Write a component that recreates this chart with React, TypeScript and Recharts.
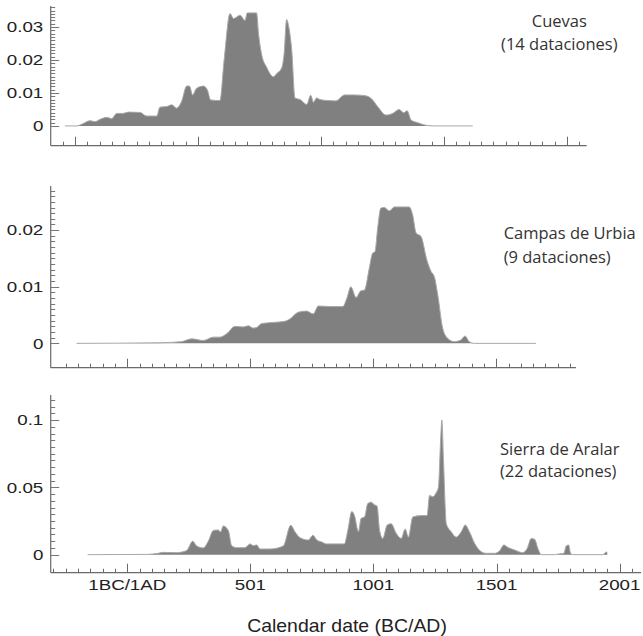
import React from 'react';
import { AreaChart, Area, XAxis, YAxis } from 'recharts';

// years: 1 = 1BC/1AD; probability density
const cuevasYears = [-40, 8, 28, 62, 82, 103, 130, 150, 170, 197, 218, 265, 292, 333, 346, 374, 394, 414, 434, 455, 466, 479, 495, 523, 539, 552, 590, 607, 631, 645, 672, 692, 701, 739, 747, 760, 780, 807, 821, 841, 851, 861, 870, 882, 895, 916, 943, 959, 970, 983, 997, 1028, 1062, 1096, 1137, 1177, 1204, 1231, 1265, 1292, 1319, 1337, 1351, 1367, 1394, 1428, 1462, 1618];
const cuevasProb = [0, 0, 0.0005, 0.0016, 0.0013, 0.002, 0.0026, 0.0022, 0.0038, 0.0038, 0.0042, 0.0041, 0.003, 0.003, 0.0057, 0.0059, 0.0064, 0.0054, 0.0074, 0.0121, 0.0121, 0.0094, 0.0114, 0.0121, 0.0109, 0.0079, 0.0077, 0.02, 0.0341, 0.0326, 0.0336, 0.032, 0.0343, 0.0343, 0.028, 0.0215, 0.0178, 0.0149, 0.0159, 0.0176, 0.022, 0.0323, 0.03, 0.0229, 0.0085, 0.008, 0.0065, 0.0093, 0.0072, 0.0085, 0.008, 0.0077, 0.0076, 0.0094, 0.0094, 0.0092, 0.0084, 0.0059, 0.0033, 0.0038, 0.005, 0.004, 0.0046, 0.0018, 0.001, 0.0002, 0, 0];

const urbiaYears = [-205, 134, 222, 263, 310, 351, 378, 405, 439, 473, 493, 513, 527, 547, 595, 642, 662, 696, 730, 757, 778, 829, 877, 894, 910, 931, 951, 965, 985, 998, 1008, 1019, 1032, 1046, 1066, 1087, 1147, 1161, 1175, 1195, 1219, 1236, 1249, 1263, 1283, 1303, 1330, 1357, 1374, 1391, 1412, 1662];
const urbiaProb = [0, 0.0001, 0.0003, 0.0008, 0.0005, 0.0011, 0.0011, 0.0017, 0.003, 0.0029, 0.0031, 0.0027, 0.0028, 0.0035, 0.0037, 0.0039, 0.0043, 0.0055, 0.0057, 0.0052, 0.0066, 0.0065, 0.0065, 0.008, 0.01, 0.0081, 0.0093, 0.0094, 0.0133, 0.0159, 0.0162, 0.0204, 0.0239, 0.024, 0.0234, 0.0241, 0.0241, 0.0227, 0.0195, 0.0189, 0.0147, 0.0127, 0.0118, 0.0086, 0.0027, 0.0009, 0.0003, 0.0006, 0.0013, 0.0003, 0, 0];

const aralarYears = [-160, 80, 127, 147, 202, 242, 267, 283, 310, 330, 351, 371, 380, 391, 412, 425, 446, 479, 500, 513, 527, 540, 581, 635, 665, 683, 703, 737, 755, 771, 791, 810, 883, 897, 913, 924, 940, 951, 965, 978, 992, 1005, 1016, 1026, 1039, 1057, 1073, 1093, 1114, 1130, 1143, 1161, 1195, 1219, 1229, 1242, 1256, 1265, 1274, 1279, 1286, 1297, 1317, 1337, 1358, 1374, 1391, 1412, 1439, 1459, 1493, 1513, 1531, 1547, 1574, 1608, 1626, 1642, 1656, 1669, 1683, 1737, 1753, 1775, 1784, 1794, 1802, 1811, 1933, 1947, 1951];
const aralarProb = [0, 0.0002, 0.001, 0.0017, 0.0015, 0.003, 0.01, 0.0064, 0.005, 0.0099, 0.018, 0.0183, 0.0168, 0.0213, 0.0178, 0.0067, 0.0052, 0.0052, 0.008, 0.0067, 0.0072, 0.0042, 0.0042, 0.0064, 0.0218, 0.0168, 0.0126, 0.0109, 0.0144, 0.0109, 0.0094, 0.008, 0.008, 0.018, 0.032, 0.029, 0.017, 0.027, 0.028, 0.038, 0.039, 0.037, 0.036, 0.018, 0.012, 0.022, 0.023, 0.016, 0.012, 0.019, 0.013, 0.028, 0.029, 0.029, 0.044, 0.043, 0.046, 0.05, 0.085, 0.1, 0.068, 0.023, 0.017, 0.013, 0.017, 0.022, 0.017, 0.0084, 0.0022, 0.001, 0.001, 0.0027, 0.0072, 0.0054, 0.0035, 0.0015, 0.0047, 0.012, 0.0114, 0.0047, 0, 0, 0.0005, 0.001, 0.0064, 0.0072, 0.001, 0, 0, 0.002, 0.0015];

const xMajorTicks = [1, 501, 1001, 1501, 2001];
const xMajorLabels = ['1BC/1AD', '501', '1001', '1501', '2001'];
const cuevasYTicks = [0, 0.01, 0.02, 0.03];
const urbiaYTicks = [0, 0.01, 0.02];
const aralarYTicks = [0, 0.05, 0.1];

const AXIS = '#6a6a6a';
const FILL = '#808080';

const range = (from: number, to: number, step: number) => {
  const out: number[] = [];
  for (let v = from; v <= to + step / 1000; v += step) out.push(Math.round(v * 1e6) / 1e6);
  return out;
};

const toRows = (years: number[], prob: number[]) => years.map((year, i) => ({ year, p: prob[i] }));

function renderXTick(props: any, showLabels: boolean) {
  const { x, y, payload } = props;
  const idx = xMajorTicks.indexOf(payload.value);
  const major = idx >= 0;
  const cx = Math.round(x) + 0.5;
  return (
    <g key={`xt-${payload.value}`}>
      <line x1={cx} x2={cx} y1={y} y2={y - (major ? 9 : 4)} stroke={AXIS} strokeWidth={1} />
      {showLabels && major && (
        <text
          transform={`translate(${x},${y + 17.3}) scale(1.25,1)`}
          textAnchor="middle"
          fontFamily="'Liberation Sans', Arial, sans-serif"
          fontSize={15}
          fill="#222"
        >
          {xMajorLabels[idx]}
        </text>
      )}
    </g>
  );
}

function renderYTick(props: any, majors: number[]) {
  const { x, y, payload } = props;
  const major = majors.some((m) => Math.abs(m - payload.value) < 1e-9);
  const cy = Math.round(y) + 0.5;
  return (
    <g key={`yt-${payload.value}`}>
      <line x1={x} x2={x + (major ? 8.5 : 4.5)} y1={cy} y2={cy} stroke="#777" strokeWidth={1} />
      {major && (
        <text
          transform={`translate(${x - 7.4},${y + 5.3}) scale(1.25,1)`}
          textAnchor="end"
          fontFamily="'Liberation Sans', Arial, sans-serif"
          fontSize={15}
          fill="#222"
        >
          {String(payload.value)}
        </text>
      )}
    </g>
  );
}

type PanelProps = {
  rows: { year: number; p: number }[];
  top: number;
  height: number;
  plotTop: number;
  plotBottom: number;
  plotRight: number;
  xDomain: [number, number];
  xTicks: number[];
  yDomain: [number, number];
  yMajor: number[];
  yTicks: number[];
  showLabels?: boolean;
};

function Panel(p: PanelProps) {
  return (
    <div style={{ position: 'absolute', left: 0, top: p.top }}>
      <AreaChart
        width={643}
        height={p.height}
        data={p.rows}
        margin={{ top: p.plotTop - p.top, right: 643 - p.plotRight, left: 0, bottom: 0 }}
      >
        <XAxis
          dataKey="year"
          type="number"
          domain={p.xDomain}
          allowDataOverflow
          ticks={p.xTicks}
          interval={0}
          tickSize={0}
          tickMargin={0}
          tickLine={false}
          axisLine={{ stroke: AXIS, strokeWidth: 1.2 }}
          height={p.top + p.height - p.plotBottom}
          tick={(t: any) => renderXTick(t, !!p.showLabels)}
        />
        <YAxis
          type="number"
          domain={p.yDomain}
          allowDataOverflow
          ticks={p.yTicks}
          interval={0}
          width={50.7}
          tickSize={0}
          tickMargin={0}
          tickLine={false}
          axisLine={{ stroke: AXIS, strokeWidth: 1.2 }}
          tick={(t: any) => renderYTick(t, p.yMajor)}
        />
        <Area
          type="monotone"
          dataKey="p"
          baseValue={0}
          stroke="#a8a8a8"
          strokeWidth={1}
          fill={FILL}
          fillOpacity={1}
          isAnimationActive={false}
          dot={false}
          activeDot={false}
        />
      </AreaChart>
    </div>
  );
}

const labelStyle: React.CSSProperties = {
  position: 'absolute',
  fontFamily: "'Open Sans', 'Noto Sans', sans-serif",
  fontSize: 16.5,
  color: '#333',
  whiteSpace: 'nowrap',
};

export default function App() {
  return (
    <div style={{ position: 'absolute', left: 0, top: 0, width: 643, height: 636, background: '#fff' }}>
      <Panel
        rows={toRows(cuevasYears, cuevasProb)}
        top={0}
        height={160}
        plotTop={6}
        plotBottom={145.7}
        plotRight={586.7}
        xDomain={[-98, 2081]}
        xTicks={range(-49, 2051, 50)}
        yDomain={[-0.006, 0.0364]}
        yMajor={cuevasYTicks}
        yTicks={range(0, 0.036, 0.001)}
      />
      <Panel
        rows={toRows(urbiaYears, urbiaProb)}
        top={170}
        height={210}
        plotTop={186}
        plotBottom={367.7}
        plotRight={576}
        xDomain={[-310, 1825]}
        xTicks={range(-249, 1801, 50)}
        yDomain={[-0.0043, 0.0278]}
        yMajor={urbiaYTicks}
        yTicks={range(0, 0.027, 0.001)}
      />
      <Panel
        rows={toRows(aralarYears, aralarProb)}
        top={380}
        height={256}
        plotTop={395}
        plotBottom={572.7}
        plotRight={641}
        xDomain={[-310, 2088]}
        xTicks={range(-299, 2051, 50)}
        yDomain={[-0.0134, 0.1186]}
        yMajor={aralarYTicks}
        yTicks={range(0, 0.115, 0.005)}
        showLabels
      />
      <div style={{ ...labelStyle, left: 559.3, top: 8.5, transform: 'translateX(-50%)', textAlign: 'center', lineHeight: '23px' }}>
        Cuevas<br />(14 dataciones)
      </div>
      <div style={{ ...labelStyle, left: 503.7, top: 220.8, lineHeight: '23.7px' }}>
        Campas de Urbia<br />(9 dataciones)
      </div>
      <div style={{ ...labelStyle, left: 500, top: 438, lineHeight: '22.4px' }}>
        Sierra de Aralar<br />(22 dataciones)
      </div>
      <svg style={{ position: 'absolute', left: 0, top: 600 }} width={643} height={36}>
        <text
          transform="translate(347,31.5) scale(1.08,1)"
          textAnchor="middle"
          fontFamily="'Liberation Sans', Arial, sans-serif"
          fontSize={18}
          fill="#222"
        >
          Calendar date (BC/AD)
        </text>
      </svg>
    </div>
  );
}
